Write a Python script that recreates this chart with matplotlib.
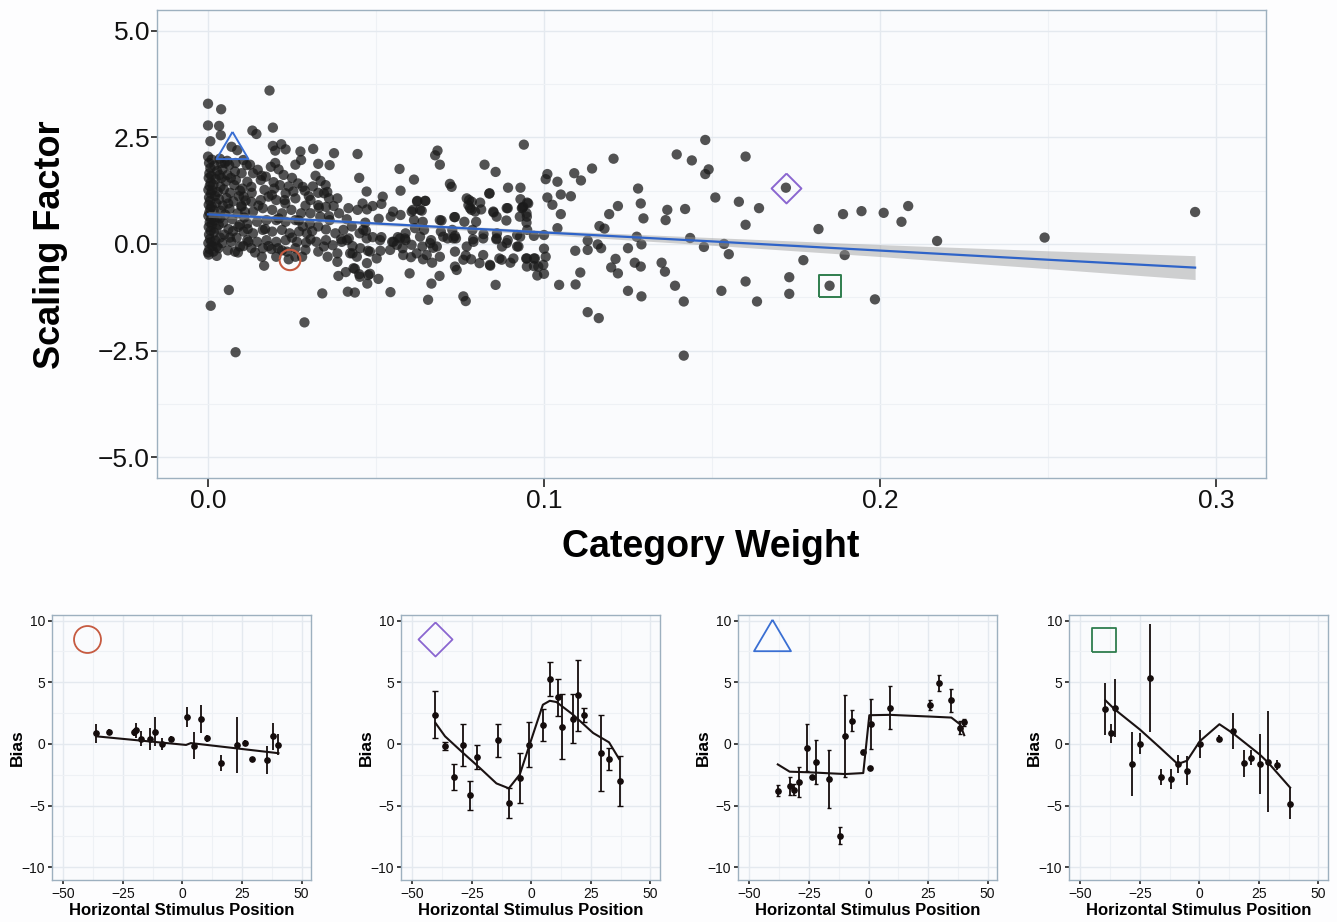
import numpy as np
import matplotlib.pyplot as plt
from matplotlib.patches import Arc

plt.rcParams['font.family'] = ['Liberation Sans', 'DejaVu Sans']

# ---- top scatter: category weight vs scaling factor ----
cat_weight = [
    0.0, 0.0039, 0.0183, 0.0, 0.0033, 0.0038, 0.0007, 0.0132, 0.0144, 0.0193, 0.0, 0.007, 0.0087,
    0.0193, 0.02, 0.0218, 0.0231, 0.0275, 0.0313, 0.0375, 0.0445, 0.0683, 0.0676, 0.069, 0.094,
    0.1207, 0.1143, 0.109, 0.111, 0.101, 0.104, 0.1005, 0.1395, 0.144, 0.148, 0.148, 0.149, 0.160,
    0.057, 0.0613, 0.0823, 0.0856, 0.045, 0.032, 0.035, 0.026, 0.0277, 0.0328, 0.0362, 0.0187,
    0.021, 0.072, 0.0725, 0.0893, 0.093, 0.0837, 0.093, 0.0936, 0.095, 0.101, 0.1025, 0.105,
    0.108, 0.105, 0.104, 0.128, 0.1288, 0.1296, 0.122, 0.1194, 0.1367, 0.1362, 0.142, 0.151,
    0.158, 0.16, 0.1536, 0.1476, 0.1435, 0.129, 0.1276, 0.125, 0.1165, 0.118, 0.116, 0.117,
    0.113, 0.1093, 0.113, 0.1213, 0.12, 0.122, 0.127, 0.1288, 0.135, 0.136, 0.139, 0.1416,
    0.1528, 0.125, 0.129, 0.1108, 0.1094, 0.1045, 0.113, 0.1163, 0.1416, 0.16, 0.1, 0.1, 0.1005,
    0.0998, 0.098, 0.1, 0.097, 0.0947, 0.097, 0.092, 0.09, 0.0867, 0.0856, 0.084, 0.0808, 0.0783,
    0.0767, 0.076, 0.0767, 0.0655, 0.0665, 0.0689, 0.0667, 0.064, 0.0604, 0.06, 0.0543, 0.0513,
    0.0476, 0.0473, 0.0507, 0.0474, 0.0482, 0.045, 0.0437, 0.041, 0.0388, 0.0416, 0.0437, 0.034,
    0.0385, 0.0356, 0.0328, 0.029, 0.0287, 0.0167, 0.016, 0.0203, 0.024, 0.026, 0.0062, 0.0008,
    0.0082, 0.0, 0.0026, 0.008,
    # right tail
    0.164, 0.172, 0.173, 0.173, 0.1772, 0.1817, 0.185, 0.189, 0.1895, 0.1945, 0.1985, 0.2011,
    0.2064, 0.2084, 0.217, 0.249, 0.2938, 0.1634, 0.155,
    # middle band 0.04 - 0.10
    0.052, 0.049, 0.0473, 0.0445, 0.0516, 0.0622, 0.0647, 0.061, 0.0636, 0.0613, 0.0573, 0.0544,
    0.0508, 0.0468, 0.0451, 0.047, 0.049, 0.0516, 0.0548, 0.0565, 0.0588, 0.0588, 0.0616, 0.0639,
    0.0643, 0.0664, 0.067, 0.0638, 0.0579, 0.0562, 0.0695, 0.0693, 0.0713, 0.0727, 0.0733, 0.0735,
    0.0738, 0.0763, 0.0777, 0.0775, 0.0784, 0.0798, 0.0813, 0.0787, 0.0789, 0.082, 0.0838, 0.085,
    0.0859, 0.086, 0.0858, 0.0875, 0.0892, 0.0888, 0.092, 0.0928, 0.0948, 0.0948, 0.095, 0.097,
    0.0892,
    # 0.03 - 0.05
    0.0305, 0.0328, 0.0345, 0.036, 0.0385, 0.0374, 0.0351, 0.0328, 0.0305, 0.0334, 0.0362, 0.039,
    0.0413, 0.0428, 0.0403, 0.0379, 0.0351, 0.0328, 0.0303, 0.0294, 0.0305, 0.0322, 0.0351, 0.0371,
    0.0396, 0.0419, 0.043, 0.0345, 0.0385, 0.043, 0.0453, 0.0292, 0.0265, 0.026, 0.0235, 0.0208,
    # 0.01 - 0.03
    0.01, 0.0134, 0.0117, 0.0157, 0.0129, 0.0168, 0.0197, 0.0214, 0.0231, 0.0254, 0.026, 0.0282,
    0.0228, 0.0203, 0.018, 0.0157, 0.0129, 0.0106, 0.01, 0.0134, 0.0163, 0.0191, 0.022, 0.0248,
    0.0277, 0.026, 0.0231, 0.0203, 0.0174, 0.0146, 0.0117, 0.0106, 0.0134, 0.0163, 0.0191, 0.022,
    0.0243, 0.0271, 0.0282, 0.0231, 0.0203, 0.0174, 0.0146, 0.0117, 0.0095, 0.0129, 0.0163, 0.0189,
    0.0105, 0.0125, 0.0148, 0.0172, 0.0195, 0.0225, 0.025, 0.0268, 0.0288, 0.0312, 0.0335, 0.0355,
    0.004, 0.006, 0.009, 0.011, 0.013, 0.015, 0.017, 0.019, 0.021, 0.023, 0.025, 0.027,
    0.029, 0.012, 0.014, 0.018, 0.022, 0.028, 0.031, 0.033, 0.008, 0.0095, 0.0065, 0.0035,
    0.005, 0.016, 0.02, 0.024, 0.03, 0.036,
    # dense column next to zero
    0.0002, 0.0004, 0.0001, 0.0006, 0.0003, 0.0008, 0.0002, 0.0005, 0.0009, 0.0001, 0.0004, 0.0007,
    0.0002, 0.0006, 0.0003, 0.0009, 0.0001, 0.0005, 0.0008, 0.0002, 0.0004, 0.0007, 0.0003, 0.0011,
    0.001, 0.0012, 0.0011, 0.0012, 0.0013, 0.0010,
    0.0016, 0.0022, 0.0018, 0.0025, 0.0019, 0.0028, 0.0017, 0.0024, 0.0021, 0.0029, 0.0016, 0.0023,
    0.0027, 0.0019, 0.0034, 0.0036, 0.0032, 0.0038, 0.0033, 0.0037, 0.0031, 0.0039, 0.0026, 0.0035,
    0.0042, 0.0048, 0.0045, 0.0051, 0.0044, 0.0055, 0.0047, 0.0053, 0.0058, 0.0043, 0.0061, 0.0064,
    0.0066, 0.0059, 0.0069, 0.0072, 0.0075, 0.0068, 0.0078, 0.0074, 0.0057, 0.0063,
    0.0085, 0.0088, 0.0092, 0.0083, 0.0095, 0.0099, 0.0102, 0.0105, 0.0108, 0.0112, 0.0089, 0.0115,
    0.0118, 0.0082,
    # extra middle points
    0.0573, 0.0472, 0.046, 0.0418, 0.0551, 0.0606, 0.0631, 0.0646, 0.0623, 0.069, 0.0735, 0.078,
    0.0795, 0.077, 0.0785, 0.081, 0.0849, 0.0889, 0.0934, 0.0938, 0.0953, 0.0949, 0.0929, 0.0413,
    0.0398, 0.0462, 0.0472, 0.0512, 0.0552, 0.0571, 0.0586, 0.0606, 0.0631, 0.0661, 0.0681, 0.07,
    0.073, 0.077, 0.079, 0.0819, 0.0859, 0.0889, 0.0924, 0.0983, 0.0973, 0.0949, 0.0423, 0.0443,
    0.0482, 0.0502, 0.0542, 0.0581, 0.0621, 0.0651, 0.069, 0.0735, 0.076, 0.0819, 0.0839, 0.0874,
    0.0909, 0.0949, 0.0433, 0.0477, 0.0452, 0.074, 0.0735,
]
scaling_factor = [
    3.29, 3.16, 3.6, 2.78, 2.77, 2.55, 2.41, 2.66, 2.58, 2.73, 2.05, 2.28, 2.2,
    2.3, 2.19, 2.34, 2.22, 2.17, 2.23, 2.13, 2.11, 2.19, 2.08, 1.86, 2.33,
    2.0, 1.77, 1.66, 1.49, 1.64, 1.46, 1.52, 2.1, 1.96, 2.44, 1.64, 1.75, 2.05,
    1.76, 1.51, 1.86, 1.69, 1.55, 1.6, 1.38, 1.86, 1.97, 1.88, 1.85, 1.81,
    1.75, 1.41, 1.34, 1.32, 1.32, 1.18, 1.05, 0.85, 0.97, 1.09, 0.92, 1.16,
    1.12, 0.7, 0.37, 1.3, 0.95, 0.6, 0.89, 0.7, 0.8, 0.56, 0.82, 1.09,
    0.99, 0.45, 0.0, -0.07, 0.14, -0.01, 0.17, -0.1, 0.42, 0.36, -0.01, -0.1,
    0.08, -0.16, -0.14, -0.35, -0.55, -0.69, -0.44, -0.53, -0.44, -0.65, -0.98, -1.35,
    -1.1, -1.1, -1.23, -0.67, -0.95, -0.96, -1.6, -1.74, -2.62, -0.88, 0.21, -0.11, -0.3,
    -0.49, -0.74, -0.7, -0.52, -0.34, -0.34, -0.06, -0.44, -0.34, -0.96, -0.51, -0.45, -0.36,
    -0.27, -1.23, -1.34, -1.31, -0.93, -0.75, -0.44, -0.36, -0.31, -0.69, -1.13, -0.16,
    -0.16, -0.45, -0.82, -0.93, -0.7, -0.71, -0.58, -0.66, -0.75, -1.12, -1.14, -1.16,
    -0.42, -0.3, -0.18, -0.14, -1.84, -0.51, -0.3, -0.3, -0.36, -0.3, -1.08, -1.45,
    -2.54, -0.2, -0.06, -0.18,
    # right tail
    0.84, 1.32, -0.78, -1.17, -0.38, 0.35, -0.98, 0.7, -0.26, 0.77, -1.3, 0.73,
    0.52, 0.89, 0.07, 0.15, 0.75, -1.35, -0.24,
    # middle band 0.04 - 0.10
    1.11, 0.89, 0.81, 0.8, 0.94, 1.0, 1.01, 0.8, 0.78, 0.56, 0.68, 0.64,
    0.59, 0.5, 0.25, 0.31, 0.16, 0.16, 0.05, 0.16, 0.25, 0.09, 0.37, 0.52,
    0.33, 0.09, -0.09, -0.06, -0.1, -0.02, 0.55, 0.29, 0.13, 0.33, 0.63, 0.19,
    0.13, 0.52, 1.03, 0.91, 0.8, 0.52, 0.81, 0.33, 0.11, 0.23, 1.19, 0.74,
    0.64, 0.25, 0.11, -0.06, 0.84, 0.55, 0.21, 0.64, 0.72, 0.5, 0.33, 0.19,
    0.09,
    # 0.03 - 0.05
    1.03, 1.2, 1.19, 1.07, 1.07, 0.89, 0.87, 0.91, 0.72, 0.64, 0.56, 0.72,
    0.58, 0.41, 0.33, 0.25, 0.34, 0.41, 0.47, 0.25, 0.11, 0.05, 0.09, -0.03,
    0.11, 0.13, -0.05, -0.06, -0.22, -0.22, -0.1, 0.03, 0.05, -0.1, -0.18, -0.1,
    # 0.01 - 0.03
    1.66, 1.66, 1.46, 1.5, 1.34, 1.27, 1.3, 1.38, 1.19, 1.23, 1.07, 1.34,
    1.03, 1.03, 1.11, 1.03, 0.99, 1.11, 0.88, 0.76, 0.84, 0.8, 0.72, 0.8,
    0.72, 0.56, 0.52, 0.56, 0.56, 0.52, 0.48, 0.29, 0.25, 0.33, 0.29, 0.33,
    0.25, 0.29, 0.41, 0.09, 0.05, 0.09, 0.05, 0.09, -0.06, -0.1, -0.1, -0.12,
    1.97, 1.86, 1.74, 1.58, 1.45, 1.62, 1.55, 1.42, 1.25, 1.35, 1.48, 1.22,
    1.55, 0.95, 0.4, 0.75, 1.2, 0.9, 0.35, 1.15, 0.6, 0.95, 0.15, 0.55,
    0.9, 0.05, -0.2, -0.05, -0.15, -0.3, 0.3, 0.85, 1.7, 1.25, 0.15, 0.6,
    1.9, 1.6, 1.9, 1.35, 1.12, 0.65,
    # dense column next to zero
    -0.25, -0.12, 0.02, 0.12, 0.22, 0.31, 0.40, 0.51, 0.58, 0.66, 0.74, 0.83,
    0.92, 1.01, 1.09, 1.18, 1.27, 1.36, 1.44, 1.55, 1.66, 1.78, 1.9, 1.98,
    0.05, 0.45, 0.88, 1.25, -0.05, 1.6,
    -0.18, 0.08, 0.27, 0.36, 0.55, 0.63, 0.79, 0.96, 1.13, 1.22, 1.39, 1.52,
    1.71, 1.84, 1.62, 0.15, 0.45, 0.78, 1.05, 1.34, -0.1, 1.9, -0.28, 2.0,
    0.02, 0.22, 0.5, 0.69, 0.9, 1.08, 1.28, 1.47, 1.62, 1.75, 0.35, 0.82,
    1.2, -0.15, 0.05, 0.58, 1.0, 1.55, 1.38, 0.3, 1.95, 1.85,
    0.15, 0.72, 1.12, 1.5, 0.45, 0.9, 1.3, -0.05, 0.62, 1.02, -0.2, 1.85,
    0.35, 1.9,
    # extra middle points
    1.25, 1.23, 0.95, 0.84, 0.76, 0.76, 0.8, 1.01, 1.01, 0.56, 0.63, 0.84,
    0.76, 1.07, 0.99, 0.97, 0.76, 0.84, 0.84, 0.87, 0.95, 0.64, 0.17, 0.09,
    0.05, 0.33, 0.13, 0.09, 0.05, 0.13, 0.13, -0.02, 0.17, 0.02, -0.06, 0.17,
    0.13, -0.06, 0.05, 0.13, 0.13, 0.02, -0.06, -0.53, -0.34, -0.34, -0.22, -0.3,
    -0.18, -0.34, -0.14, -0.26, -0.22, -0.26, -0.3, -0.18, -0.37, -0.26, -0.49, -0.37,
    -0.34, -0.53, -0.57, -0.73, -0.77, -0.61, -0.53,
]

# linear fit with its confidence band
reg_x = [0.0, 0.05, 0.1, 0.15, 0.2, 0.25, 0.2938]
reg_fit = [0.695, 0.48, 0.27, 0.06, -0.155, -0.37, -0.555]
reg_half = [0.07, 0.04, 0.05, 0.09, 0.14, 0.21, 0.28]

# highlighted subjects (shape, colour, position in top plot)
hl_circle = (0.0244, -0.375)
hl_diamond = (0.172, 1.32)
hl_triangle = (0.00705, 2.32)
hl_square = (0.185, -0.98)

top_xticks = [0.0, 0.1, 0.2, 0.3]
top_xlabels = ["0.0", "0.1", "0.2", "0.3"]
top_yticks = [-5.0, -2.5, 0.0, 2.5, 5.0]
top_ylabels = ["\u22125.0", "\u22122.5", "0.0", "2.5", "5.0"]

# ---- bottom panels: bias vs horizontal position ----
p1_x = [-36.3, -30.8, -20.2, -19.5, -17.6, -13.8, -11.4, -8.7, -5.0, 1.7, 4.8, 7.8, 10.1,
        16.0, 22.7, 26.2, 29.4, 35.6, 38.1, 40.3]
p1_y = [0.86, 1.0, 0.95, 1.1, 0.43, 0.43, 1.0, 0.0, 0.38, 2.2, -0.14, 2.0, 0.46,
        -1.57, -0.08, 0.1, -1.2, -1.3, 0.62, -0.08]
p1_err = [0.75, 0.2, 0.3, 0.6, 0.6, 0.9, 1.2, 0.5, 0.25, 0.8, 1.1, 1.15, 0.3,
          0.65, 2.3, 0.2, 0.1, 1.1, 1.1, 0.85]
p1_fit_x = [-36.3, 1.5, 3.5, 40.3]
p1_fit_y = [0.62, -0.08, 0.07, -0.75]

p2_x = [-40.3, -36.3, -32.4, -28.7, -25.6, -22.7, -14.0, -9.5, -4.9, -1.0, 4.8, 7.6, 11.1,
        12.9, 17.6, 19.6, 22.1, 29.3, 32.6, 37.1]
p2_y = [2.37, -0.16, -2.66, -0.1, -4.15, -1.05, 0.3, -4.8, -2.75, -0.05, 1.5, 5.28, 3.77,
        1.4, 2.05, 3.93, 2.37, -0.75, -1.24, -3.0]
p2_err = [1.9, 0.35, 1.05, 1.7, 1.17, 0.95, 1.35, 1.24, 2.05, 1.85, 1.3, 1.4, 1.5,
          2.65, 2.0, 2.9, 0.55, 3.1, 0.9, 2.0]
p2_fit_x = [-40.3, -36.3, -28.7, -21.7, -14.7, -9.5, -4.9, -1.0, 4.8, 7.7, 10.5, 17.5, 25.9,
            32.6, 36.8]
p2_fit_y = [1.7, 0.62, -0.73, -1.94, -3.2, -3.6, -2.48, -0.19, 3.18, 3.5, 3.4, 2.37, 0.89,
            0.13, -1.21]

p3_x = [-38.1, -33.1, -31.1, -29.2, -25.7, -23.8, -21.9, -16.4, -11.8, -9.7, -6.9, -2.2, 0.5,
        1.2, 8.9, 25.9, 29.7, 34.8, 38.4, 40.2]
p3_y = [-3.78, -3.4, -3.73, -3.1, -0.3, -2.7, -1.44, -2.84, -7.45, 0.66, 1.87, -0.66, -1.98,
        1.63, 2.95, 3.19, 4.94, 3.54, 1.33, 1.76]
p3_err = [0.47, 0.7, 0.45, 1.2, 1.9, 0.1, 1.8, 2.35, 0.7, 3.35, 0.85, 0.15, 0.0,
          2.0, 1.75, 0.4, 0.65, 0.95, 0.55, 0.27]
p3_fit_x = [-38.1, -33.1, -24.8, -16.4, -9.7, -2.2, 0.35, 8.9, 25.9, 34.8, 38.4, 40.2]
p3_fit_y = [-1.66, -2.25, -2.3, -2.38, -2.44, -2.36, 2.33, 2.36, 2.22, 2.14, 1.6, 0.71]

p4_x = [-39.5, -37.0, -35.6, -28.5, -25.1, -20.6, -16.1, -12.1, -9.1, -5.2, 0.2, 8.4, 14.2,
        18.6, 21.8, 25.4, 28.9, 32.5, 38.1]
p4_y = [2.84, 0.85, 2.95, -1.63, 0.0, 5.34, -2.7, -2.87, -1.63, -2.17, 0.0, 0.44, 1.06,
        -1.57, -1.12, -1.63, -1.44, -1.71, -4.86]
p4_err = [2.1, 0.8, 2.35, 2.6, 0.85, 4.4, 0.65, 0.8, 0.7, 1.17, 1.15, 0.3, 1.45,
          1.1, 0.6, 2.45, 4.1, 0.4, 1.25]
p4_fit_x = [-39.5, -35.6, -25.0, -16.5, -9.1, -5.2, 0.2, 8.4, 14.2, 25.4, 28.9, 38.1]
p4_fit_y = [3.54, 2.81, 1.17, -0.31, -1.63, -1.36, 0.23, 1.6, 0.85, -0.87, -1.52, -3.54]

bot_xticks = [-50, -25, 0, 25, 50]
bot_xlabels = ["\u221250", "\u221225", "0", "25", "50"]
bot_yticks = [-10, -5, 0, 5, 10]
bot_ylabels = ["\u221210", "\u22125", "0", "5", "10"]

# ---- style ----
PANEL_BG = '#FAFBFD'
GRID = '#E4E9EF'
GRID_MINOR = '#EEF1F5'
SPINE = '#9DB0BF'
C_CIRCLE = '#C65A40'
C_DIAMOND = '#8A66D0'
C_TRIANGLE = '#3A6FD3'
C_SQUARE = '#2F7D4E'

tri_marker = [(0, 0.85), (-1, -0.85), (1, -0.85), (0, 0.85)]
dia_marker = [(0, 1), (1, 0), (0, -1), (-1, 0), (0, 1)]
sq_marker = [(-1, -1), (1, -1), (1, 1), (-1, 1), (-1, -1)]


def style_axes(ax, xminor, yminor, tick_size, tick_len, pad):
    ax.set_facecolor(PANEL_BG)
    for s in ax.spines.values():
        s.set_color(SPINE)
        s.set_linewidth(1.0)
    ax.set_xticks(xminor, minor=True)
    ax.set_yticks(yminor, minor=True)
    ax.grid(which='major', color=GRID, linewidth=1.0)
    ax.grid(which='minor', color=GRID_MINOR, linewidth=0.8)
    ax.set_axisbelow(True)
    ax.tick_params(which='minor', length=0)
    ax.tick_params(which='major', labelsize=tick_size, length=tick_len, width=1.2,
                   color='#222222', labelcolor='#111111', pad=pad)


fig = plt.figure(figsize=(13.37, 9.22), dpi=100)
fig.patch.set_facecolor('#FDFDFE')

# top plot
ax = fig.add_axes([0.1174, 0.4816, 0.8295, 0.5076])
style_axes(ax, [0.05, 0.15, 0.25], [-3.75, -1.25, 1.25, 3.75], 19, 6.5, 1.5)
ax.tick_params(axis='y', length=4, pad=1)
ax.scatter(cat_weight, scaling_factor, s=55, color='#1a1a1a', alpha=0.75,
           edgecolors='none', zorder=2)
lo = [f - h for f, h in zip(reg_fit, reg_half)]
hi = [f + h for f, h in zip(reg_fit, reg_half)]
ax.fill_between(reg_x, lo, hi, color='#9a9a9a', alpha=0.45, linewidth=0, zorder=3)
ax.plot(reg_x, reg_fit, color='#2E63C8', linewidth=1.6, zorder=4)

ax.add_patch(Arc(hl_circle, width=0.0062, height=0.48, theta1=-130, theta2=110,
                 color=C_CIRCLE, linewidth=1.5, zorder=5))
ax.plot(*hl_triangle, marker=tri_marker, markersize=23, mfc='none', mec=C_TRIANGLE,
        mew=1.4, zorder=5)
ax.plot(*hl_diamond, marker=dia_marker, markersize=21.5, mfc='none', mec=C_DIAMOND,
        mew=1.4, zorder=5)
ax.plot(*hl_square, marker=sq_marker, markersize=15.8, mfc='none', mec=C_SQUARE,
        mew=1.4, zorder=5)

ax.set_xlim(-0.0152, 0.3149)
ax.set_ylim(-5.49, 5.49)
ax.set_xticks(top_xticks)
ax.set_xticklabels(top_xlabels)
ax.set_yticks(top_yticks)
ax.set_yticklabels(top_ylabels)
ax.set_xlabel('Category Weight', fontsize=27, fontweight='bold')
ax.set_ylabel('Scaling Factor', fontsize=26, fontweight='bold')
ax.xaxis.set_label_coords(0.4995, -0.108)
ax.yaxis.set_label_coords(-0.08, 0.498)

# bottom panels
panels = [
    (0.0389, p1_x, p1_y, p1_err, p1_fit_x, p1_fit_y, 'o', C_CIRCLE, 19.4, (-40.2, 8.5), 0),
    (0.2999, p2_x, p2_y, p2_err, p2_fit_x, p2_fit_y, dia_marker, C_DIAMOND, 24.5, (-40.6, 8.48), 2.5),
    (0.5520, p3_x, p3_y, p3_err, p3_fit_x, p3_fit_y, tri_marker, C_TRIANGLE, 26.6, (-40.5, 8.86), 1.5),
    (0.7995, p4_x, p4_y, p4_err, p4_fit_x, p4_fit_y, sq_marker, C_SQUARE, 17.3, (-40.2, 8.44), 0),
]
for left, px, py, perr, fx, fy, mk, mc, ms, mpos, cap in panels:
    b = fig.add_axes([left, 0.0456, 0.1934, 0.2874])
    style_axes(b, [-37.5, -12.5, 12.5, 37.5], [-7.5, -2.5, 2.5, 7.5], 10, 3, 2)
    b.errorbar(px, py, yerr=perr, fmt='o', color='#140c0c', markersize=3.8,
               elinewidth=1.3, capsize=cap, capthick=1.0, zorder=3)
    b.plot(fx, fy, color='#1a1212', linewidth=1.5, zorder=4)
    b.plot(*mpos, marker=mk, markersize=ms, mfc='none', mec=mc, mew=1.3, zorder=5)
    b.set_xlim(-54.8, 53.8)
    b.set_ylim(-11.03, 10.46)
    b.set_xticks(bot_xticks)
    b.set_xticklabels(bot_xlabels)
    b.set_yticks(bot_yticks)
    b.set_yticklabels(bot_ylabels)
    b.set_xlabel('Horizontal Stimulus Position', fontsize=12, fontweight='bold')
    b.set_ylabel('Bias', fontsize=12.5, fontweight='bold')
    b.xaxis.set_label_coords(0.5, -0.088)
    b.yaxis.set_label_coords(-0.105, 0.5)

fig.savefig('out.png', dpi=100, facecolor=fig.get_facecolor())
